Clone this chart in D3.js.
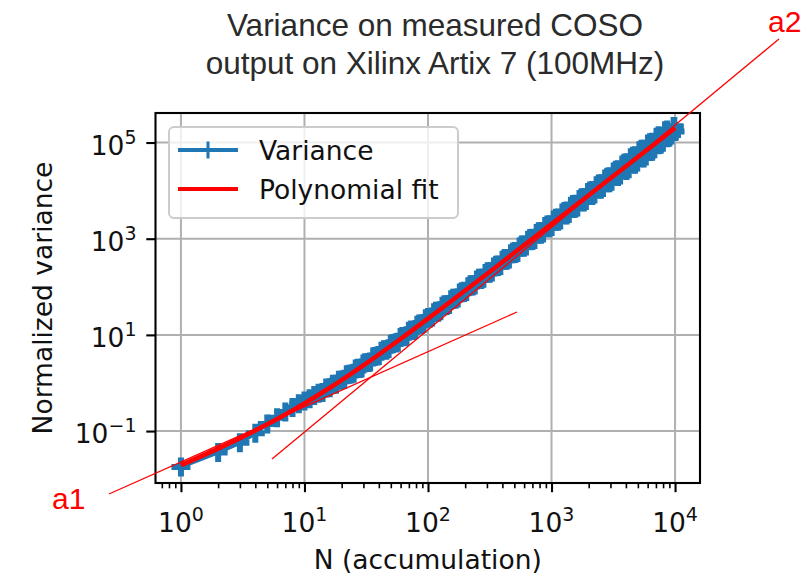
<!DOCTYPE html>
<html>
<head>
<meta charset="utf-8">
<script src="https://cdn.jsdelivr.net/npm/d3@7"></script>
<style>
  body { margin: 0; background: #fff; }
  text { font-family: "DejaVu Sans", sans-serif; }
</style>
</head>
<body>
<svg id="chart" width="809" height="579"></svg>
<script>
// values
const accumN = [1,2,3,4,5,6,7,8,9,10,11,12,13,14,15,16,17,18,19,20,
  21,22,23,24,25,26,27,28,29,30,
  31,33,34,36,37,39,40,42,44,46,
  48,50,52,55,57,60,62,65,67,70,
  73,76,79,82,85,89,92,96,100,104,
  108,112,116,121,126,131,136,142,148,154,
  160,167,174,181,188,196,204,212,221,230,
  239,249,259,270,281,292,304,316,329,342,
  356,370,385,401,417,434,452,470,489,509,
  530,551,574,597,621,646,672,700,728,758,
  789,821,854,889,925,963,1002,1043,1086,1130,
  1176,1224,1274,1326,1380,1436,1494,1555,1618,1684,
  1753,1824,1898,1975,2055,2139,2226,2317,2411,2509,
  2611,2717,2828,2943,3063,3187,3317,3452,3592,3738,
  3890,4049,4214,4385,4564,4749,4942,5143,5352,5570,
  5797,6033,6278,6533,6799,7076,7364,7663,7975,8299,
  8637,8988,9354,9734,9867,10000];
const variance = [0.018,0.036,0.057,0.09,0.14,0.19,0.25,0.31,0.37,0.42,0.47,0.55,
  0.61,0.63,0.79,0.80,0.94,0.94,1.14,1.15,
  1.19,1.48,1.52,1.54,1.59,1.95,2.03,2.0,2.06,2.49,
  2.62,2.65,2.74,3.48,3.56,3.62,3.71,4.57,4.92,4.79,
  5.13,6.35,6.64,6.74,7.05,8.83,9.31,9.11,9.55,11.9,
  12.66,12.4,12.9,15.8,16.9,16.5,17.25,21.7,23.1,22.5,
  23.5,29.0,31.0,29.5,31.6,39.6,42.1,40.7,42.7,53.6,
  57.8,55.2,58.5,74.2,79.2,76.3,79.9,100.2,109.7,103.3,
  108.9,138.7,149.8,141.6,149.9,188,205.4,190.9,202.3,259,
  280.6,263.5,276,358,387,357,379.1,486,530.6,490,
  514,672,736,665,704,931,1006,913,966,1278,
  1397,1239,1312,1788,1917,1685,1803,2457,2663,2317,
  2453,3410,3693,3115,3335,4730,5119,4279,4580,6556,
  7104,5817,6225,9090,9839,7903,8457,12610,13652,10739,
  11628,17478,18933,14594,15619,24444,26476,19593,21212,34173,
  37005,26288,28472,48168,51759,35248,39147,67830,72301,47853,
  52503,93000,98671,66000,74058,128000,137905,92000,101873,176000,
  182205,128000,143631,215000,214378,170000];

const fitN = [1,2,3,5,7,10,15,20,30,50,70,100,150,200,300,500,700,1000,1500,2000,3000,5000,7000,10000];
const fitV = [0.0196,0.0432,0.0708,0.138,0.221,0.376,0.714,1.152,2.328,5.88,11.03,21.76,47.64,83.52,
  185.3,508.8,992.3,2018,4526,8035,18053,50088,98123,200176];

const xTicks = [1,10,100,1000,10000];
const xTickExp = ["0","1","2","3","4"];
const yTicks = [0.1,10,1000,100000];
const yTickExp = ["\u22121","1","3","5"];

// hand-drawn tangent lines (a1, a2) in data units
const annotNames = ["a1","a2"];
const annotN = [[0.2616,525.3],[5.458,69380]];
const annotV = [[0.00491,29.91],[0.02624,1.421e7]];

const blue = "#1f77b4", red = "#ff0000";

const svg = d3.select("#chart");
const margin = {top: 113, right: 109, bottom: 96, left: 155.5};
const width = 809 - margin.left - margin.right,
      height = 579 - margin.top - margin.bottom;

const g = svg.append("g").attr("transform", `translate(${margin.left},${margin.top})`);

const x = d3.scaleLog().domain([Math.pow(10,-0.206), Math.pow(10,4.202)]).range([0, width]);
const y = d3.scaleLog().domain([Math.pow(10,-2.08), Math.pow(10,5.614)]).range([height, 0]);

svg.append("defs").append("clipPath").attr("id","clip")
  .append("rect").attr("width", width).attr("height", height);

// grid
g.selectAll(".gx").data(xTicks).enter().append("line")
  .attr("x1", d=>x(d)).attr("x2", d=>x(d)).attr("y1",0).attr("y2",height)
  .attr("stroke","#b0b0b0").attr("stroke-width",2);
g.selectAll(".gy").data(yTicks).enter().append("line")
  .attr("y1", d=>y(d)).attr("y2", d=>y(d)).attr("x1",0).attr("x2",width)
  .attr("stroke","#b0b0b0").attr("stroke-width",2);

// variance line + markers
const pts = accumN.map((n,i)=>[n, variance[i]]);
const plot = g.append("g").attr("clip-path","url(#clip)");
plot.append("path").datum(pts)
  .attr("fill","none").attr("stroke",blue).attr("stroke-width",4).attr("stroke-linejoin","round")
  .attr("d", d3.line().x(d=>x(d[0])).y(d=>y(d[1])));
plot.selectAll(".mk").data(pts).enter().append("path")
  .attr("transform", d=>`translate(${x(d[0])},${y(d[1])})`)
  .attr("d","M-9.5,0H9.5M0,-9.5V9.5")
  .attr("stroke",blue).attr("stroke-width",6);

// polynomial fit
plot.append("path").datum(fitN.map((n,i)=>[n, fitV[i]]))
  .attr("fill","none").attr("stroke",red).attr("stroke-width",4.5)
  .attr("d", d3.line().curve(d3.curveMonotoneX).x(d=>x(d[0])).y(d=>y(d[1])));

// axes
const xAxis = g.append("g").attr("transform",`translate(0,${height})`)
  .call(d3.axisBottom(x).tickValues(xTicks).tickSize(9.2).tickFormat(""));
const minor = x.ticks().filter(d => xTicks.indexOf(d) < 0);
g.append("g").attr("transform",`translate(0,${height})`)
  .call(d3.axisBottom(x).tickValues(minor).tickSize(5.3).tickFormat(""))
  .call(a=>a.selectAll("line").attr("stroke-width",1.6));
const yAxis = g.append("g")
  .call(d3.axisLeft(y).tickValues(yTicks).tickSize(9.2).tickFormat(""));
g.selectAll(".domain").remove();
xAxis.selectAll("line").attr("stroke-width",2.1);
yAxis.selectAll("line").attr("stroke-width",2.1);

const xl = g.selectAll(".xl").data(xTicks).enter().append("text")
  .attr("x", d=>x(d)).attr("y", height+49).attr("text-anchor","middle")
  .attr("font-size",26.5).attr("fill","#111");
xl.append("tspan").text("10");
xl.append("tspan").attr("dy",-11).attr("font-size",19).text((d,i)=>xTickExp[i]);

const yl = g.selectAll(".yl").data(yTicks).enter().append("text")
  .attr("x", -19).attr("y", d=>y(d)+12).attr("text-anchor","end")
  .attr("font-size",26.5).attr("fill","#111");
yl.append("tspan").text("10");
yl.append("tspan").attr("dy",-11).attr("font-size",19).text((d,i)=>yTickExp[i]);

// frame
g.append("rect").attr("width",width).attr("height",height)
  .attr("fill","none").attr("stroke","#000").attr("stroke-width",2.1);

// axis labels
g.append("text").attr("x", width/2).attr("y", height+86).attr("text-anchor","middle")
  .attr("font-size",26.5).attr("fill","#111").text("N (accumulation)");
svg.append("text").attr("transform",`translate(52,${margin.top+height/2}) rotate(-90)`)
  .attr("text-anchor","middle").attr("font-size",26.5).attr("fill","#111").text("Normalized variance");

// legend
const leg = g.append("g").attr("transform","translate(13.5,14)");
leg.append("rect").attr("width",289).attr("height",91).attr("rx",5)
  .attr("fill","#fff").attr("fill-opacity",0.8).attr("stroke","#cccccc").attr("stroke-width",2);
leg.append("line").attr("x1",9).attr("x2",69).attr("y1",23).attr("y2",23)
  .attr("stroke",blue).attr("stroke-width",4);
leg.append("path").attr("d","M39,14.5V31.5M30.5,23H47.5").attr("stroke",blue).attr("stroke-width",3);
leg.append("line").attr("x1",9).attr("x2",69).attr("y1",62).attr("y2",62)
  .attr("stroke",red).attr("stroke-width",4);
leg.append("text").attr("x",90).attr("y",32.5).attr("font-size",26.5).attr("fill","#111").text("Variance");
leg.append("text").attr("x",90).attr("y",71.5).attr("font-size",26.5).attr("fill","#111").text("Polynomial fit");

// title
const title = svg.append("text").attr("text-anchor","middle")
  .style("font-family","'Liberation Sans', Arial, sans-serif").attr("font-size",31.5).attr("fill","#2b2b2b");
title.append("tspan").attr("x",435).attr("y",36).text("Variance on measured COSO");
title.append("tspan").attr("x",435).attr("y",74).text("output on Xilinx Artix 7 (100MHz)");

// tangent annotations
annotNames.forEach((name,i)=>{
  const x0 = x(annotN[i][0]), y0 = y(annotV[i][0]), x1 = x(annotN[i][1]), y1 = y(annotV[i][1]);
  g.append("line").attr("x1",x0).attr("y1",y0).attr("x2",x1).attr("y2",y1)
    .attr("stroke",red).attr("stroke-width",1.3);
  const lbl = g.append("text").style("font-family","'Liberation Sans', Arial, sans-serif")
    .attr("font-size",30).attr("fill",red).text(name);
  if (i === 0) lbl.attr("x", x0-57).attr("y", y0+15);
  else lbl.attr("x", x1-11).attr("y", y1-7);
});
</script>
</body>
</html>
